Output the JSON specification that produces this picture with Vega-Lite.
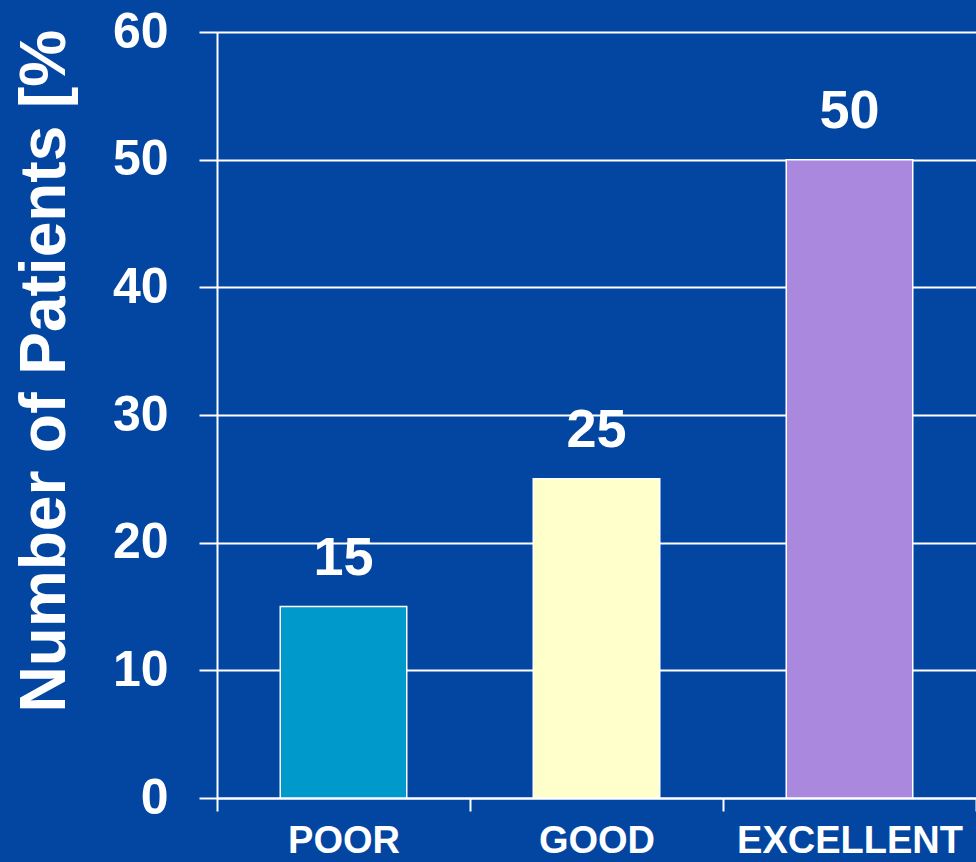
{
  "$schema": "https://vega.github.io/schema/vega-lite/v6.json",
  "description": "Number of patients by outcome",
  "autosize": "none",
  "width": 759,
  "height": 766,
  "padding": {"left": 217, "top": 32, "right": 0, "bottom": 64},
  "background": "#0346a2",
  "config": {
    "font": "Liberation Sans",
    "view": {"stroke": null},
    "axis": {"domainColor": "white", "tickColor": "white", "labelColor": "white", "titleColor": "white", "labelFontWeight": "bold", "titleFontWeight": "bold"}
  },
  "data": {
    "values": [
      {"rating": "POOR", "percent": 15},
      {"rating": "GOOD", "percent": 25},
      {"rating": "EXCELLENT", "percent": 50}
    ]
  },
  "encoding": {
    "x": {
      "field": "rating",
      "type": "nominal",
      "sort": null,
      "scale": {"paddingInner": 0, "paddingOuter": 0},
      "axis": {"title": null, "labelAngle": 0, "labelFontSize": 38, "labelLimit": 0, "labelPadding": 11, "tickSize": 13, "tickWidth": 2, "domainWidth": 2, "tickBand": "extent", "grid": false}
    },
    "y": {
      "field": "percent",
      "type": "quantitative",
      "scale": {"domain": [0, 60]},
      "axis": {
        "values": [0, 10, 20, 30, 40, 50, 60],
        "title": "Number of Patients [%",
        "titleFontSize": 64,
        "titleAngle": -90,
        "titleAnchor": "start",
        "titleAlign": "left",
        "titleBaseline": "alphabetic",
        "titleX": -153,
        "titleY": 680,
        "labelFontSize": 50,
        "labelPadding": 31,
        "tickSize": 18,
        "tickWidth": 2,
        "domainWidth": 2,
        "grid": true,
        "gridColor": "white",
        "gridWidth": 2,
        "gridOpacity": 1
      }
    }
  },
  "layer": [
    {
      "mark": {"type": "bar", "width": {"band": 0.5}, "stroke": "white", "strokeWidth": 1.5},
      "encoding": {
        "color": {
          "field": "rating",
          "type": "nominal",
          "scale": {"domain": ["POOR", "GOOD", "EXCELLENT"], "range": ["#0099cc", "#ffffcc", "#aa88dd"]},
          "legend": null
        }
      }
    },
    {
      "mark": {"type": "text", "dy": -32, "baseline": "alphabetic", "fontSize": 54, "fontWeight": "bold", "color": "white"},
      "encoding": {"text": {"field": "percent", "type": "quantitative"}}
    }
  ]
}
